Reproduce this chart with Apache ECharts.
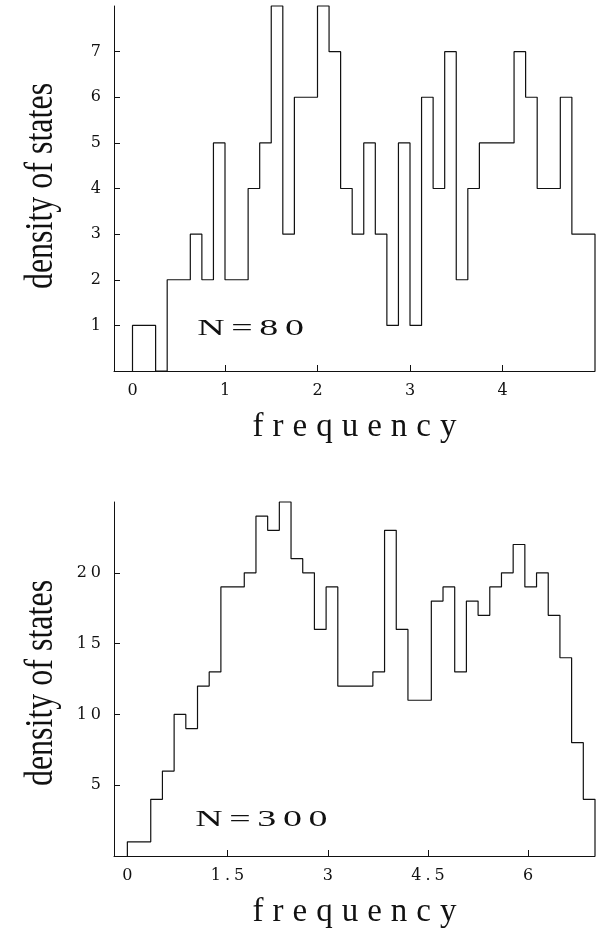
<!DOCTYPE html>
<html>
<head>
<meta charset="utf-8">
<script src="https://cdn.jsdelivr.net/npm/echarts@6/dist/echarts.min.js"></script>
<style>
html,body{margin:0;padding:0;background:#fff;}
#chart{width:603px;height:930px;}
</style>
</head>
<body>
<div id="chart"></div>
<script>
// ---- data ----
const topCounts = [1,1,0,2,2,3,2,5,2,2,4,5,8,3,6,6,8,7,4,3,5,3,1,5,1,6,4,7,2,4,5,5,5,7,6,4,4,6,3,3];
const topBinStart = 0;
const topBinWidth = 0.125;
const topXTicks = [0,1,2,3,4];
const topYTicks = [1,2,3,4,5,6,7];
const topLabel = 'N=80';

const botCounts = [1,1,4,6,10,9,12,13,19,19,20,24,23,25,21,20,16,19,12,12,12,13,23,16,11,11,18,19,13,18,17,19,20,22,19,20,17,14,8,4];
const botBinStart = 0;
const botBinWidth = 0.175;
const botXTicks = [0,1.5,3,4.5,6];
const botYTicks = [5,10,15,20];
const botLabel = 'N=300';

const xName = 'frequency';
const yName = 'density of states';

// ---- helpers ----
function stepPoints(counts, start, width){
  const pts = [[start, 0]];
  counts.forEach((v, i) => {
    pts.push([start + i*width, v]);
    pts.push([start + (i+1)*width, v]);
  });
  pts.push([start + counts.length*width, 0]);
  return pts;
}
function spaced(str, key){
  return str.split('').map(c => '{' + key + '|' + c + '}').join('');
}
const SERIF = 'Liberation Serif';
const DSERIF = 'DejaVu Serif';
const TICK_FS = 16;
const tickRich = { d: { fontFamily: DSERIF, fontSize: TICK_FS, color: '#111', padding: [0, 2] } };
const nameRich = { s: { fontFamily: SERIF, fontSize: 33, color: '#111', padding: [0, 4.5] } };
const nRich = { n: { fontFamily: SERIF, fontSize: 23, color: '#111', padding: [0, 2] } };

function xAxisCfg(idx, min, max, ticks){
  return {
    gridIndex: idx, type: 'value', min: min, max: max,
    name: spaced(xName, 's'), nameLocation: 'middle', nameGap: 40,
    nameTextStyle: { fontFamily: SERIF, fontSize: 33, color: '#111', rich: nameRich },
    axisLine: { show: true, onZero: false, lineStyle: { color: '#111', width: 1 } },
    axisTick: { show: true, inside: true, length: 6, customValues: ticks, lineStyle: { color: '#111' } },
    axisLabel: { show: true, margin: 12, customValues: ticks, fontFamily: DSERIF, fontSize: TICK_FS, color: '#111',
      formatter: v => spaced(String(v), 'd'), rich: tickRich },
    splitLine: { show: false }
  };
}
function yAxisCfg(idx, min, max, ticks){
  return {
    gridIndex: idx, type: 'value', min: min, max: max,
    axisLine: { show: true, onZero: false, lineStyle: { color: '#111', width: 1 } },
    axisTick: { show: true, inside: true, length: 6, customValues: ticks, lineStyle: { color: '#111' } },
    axisLabel: { show: true, margin: 11, customValues: ticks, fontFamily: DSERIF, fontSize: TICK_FS, color: '#111',
      formatter: v => spaced(String(v), 'd'), rich: tickRich },
    splitLine: { show: false }
  };
}

const chart = echarts.init(document.getElementById('chart'), null, { renderer: 'canvas' });
chart.setOption({
  animation: false,
  backgroundColor: '#fff',
  grid: [
    { left: 114, right: 8, top: 6, height: 365 },
    { left: 114, right: 8, top: 502, height: 362 }
  ],
  xAxis: [ xAxisCfg(0, -0.2, 5, topXTicks), xAxisCfg(1, -0.2, 7, botXTicks) ],
  yAxis: [ yAxisCfg(0, 0, 8, topYTicks), yAxisCfg(1, 0, 25, botYTicks) ],
  series: [
    { type: 'line', xAxisIndex: 0, yAxisIndex: 0, data: stepPoints(topCounts, topBinStart, topBinWidth),
      symbol: 'none', lineStyle: { color: '#111', width: 1.2 }, clip: false },
    { type: 'line', xAxisIndex: 1, yAxisIndex: 1, data: stepPoints(botCounts, botBinStart, botBinWidth),
      symbol: 'none', lineStyle: { color: '#111', width: 1.2 }, clip: false }
  ],
  graphic: [
    { type: 'text', x: 41, y: 186, rotation: Math.PI/2, scaleX: 0.8,
      style: { text: yName, font: '40px "Liberation Serif"', fill: '#111', align: 'center', verticalAlign: 'middle' } },
    { type: 'text', x: 41, y: 683, rotation: Math.PI/2, scaleX: 0.8,
      style: { text: yName, font: '40px "Liberation Serif"', fill: '#111', align: 'center', verticalAlign: 'middle' } },
    { type: 'text', x: 194, y: 329, scaleX: 1.65,
      style: { text: spaced(topLabel, 'n'), rich: nRich, fill: '#111', align: 'left', verticalAlign: 'middle' } },
    { type: 'text', x: 192, y: 820, scaleX: 1.65,
      style: { text: spaced(botLabel, 'n'), rich: nRich, fill: '#111', align: 'left', verticalAlign: 'middle' } }
  ]
});
</script>
</body>
</html>
